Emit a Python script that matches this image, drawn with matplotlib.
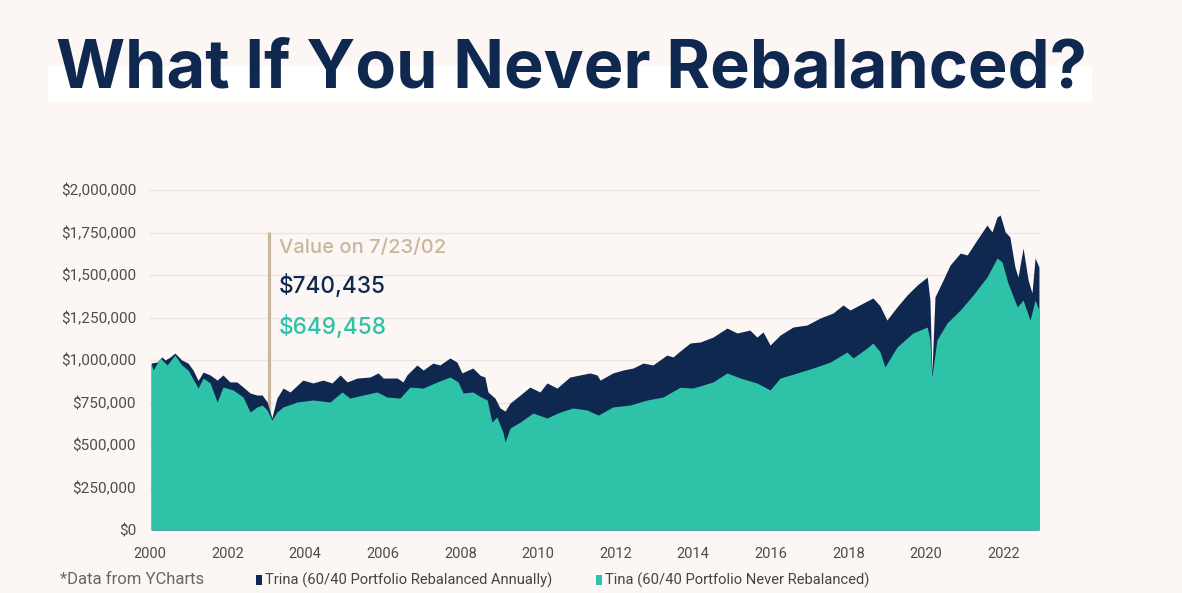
import matplotlib
matplotlib.use("Agg")
import matplotlib.pyplot as plt
from matplotlib.patches import Rectangle
from matplotlib.ticker import FuncFormatter, FixedLocator

# ---- data (values in thousands of dollars, time in decimal years) ----
trina_years = [2000.03, 2000.18, 2000.31, 2000.39, 2000.52, 2000.64, 2000.82, 2000.98,
               2001.11, 2001.24, 2001.37, 2001.55, 2001.73, 2001.88, 2002.06, 2002.24,
               2002.40, 2002.58, 2002.76, 2002.89, 2003.02, 2003.14, 2003.27, 2003.43,
               2003.61, 2003.94, 2004.20, 2004.46, 2004.69, 2004.90, 2005.08, 2005.34,
               2005.67, 2005.88, 2006.01, 2006.37, 2006.52, 2006.62, 2006.88, 2007.04,
               2007.29, 2007.47, 2007.73, 2007.91, 2008.04, 2008.32, 2008.51, 2008.63,
               2008.71, 2008.89, 2009.02, 2009.15, 2009.28, 2009.54, 2009.79, 2010.05,
               2010.23, 2010.49, 2010.82, 2011.08, 2011.34, 2011.52, 2011.60, 2011.93,
               2012.19, 2012.45, 2012.71, 2012.96, 2013.32, 2013.48, 2013.66, 2013.92,
               2014.18, 2014.51, 2014.87, 2015.13, 2015.46, 2015.64, 2015.80, 2015.98,
               2016.24, 2016.57, 2016.93, 2017.27, 2017.60, 2017.86, 2018.04, 2018.38,
               2018.63, 2018.81, 2018.99, 2019.25, 2019.51, 2019.77, 2020.03, 2020.10,
               2020.15, 2020.23, 2020.44, 2020.62, 2020.88, 2021.06, 2021.31, 2021.57,
               2021.70, 2021.83, 2021.91, 2022.04, 2022.16, 2022.29, 2022.37, 2022.50,
               2022.63, 2022.73, 2022.81, 2022.91]
trina_values = [982, 988, 1018, 1000, 1018, 1041, 1000, 982,
                941, 880, 929, 912, 882, 912, 871, 871,
                841, 806, 794, 794, 753, 659, 776, 835,
                812, 882, 865, 882, 865, 912, 871, 894,
                900, 924, 894, 894, 871, 912, 971, 941,
                982, 971, 1012, 988, 924, 953, 910, 900,
                812, 776, 718, 700, 747, 794, 841, 812,
                865, 835, 900, 912, 924, 912, 882, 924,
                941, 953, 982, 971, 1029, 1018, 1053, 1100,
                1106, 1135, 1188, 1159, 1176, 1135, 1165, 1088,
                1147, 1194, 1206, 1247, 1276, 1324, 1294, 1335,
                1365, 1320, 1235, 1312, 1382, 1441, 1488, 1353,
                924, 1371, 1471, 1559, 1629, 1618, 1706, 1794,
                1753, 1841, 1853, 1753, 1724, 1547, 1488, 1659,
                1471, 1394, 1600, 1547]

tina_years = [2000.03, 2000.08, 2000.26, 2000.44, 2000.64, 2000.82, 2000.98, 2001.24,
              2001.37, 2001.55, 2001.73, 2001.88, 2002.14, 2002.40, 2002.58, 2002.76,
              2002.89, 2003.02, 2003.14, 2003.27, 2003.43, 2003.79, 2004.20, 2004.64,
              2004.95, 2005.15, 2005.49, 2005.85, 2006.11, 2006.44, 2006.70, 2007.04,
              2007.40, 2007.73, 2007.94, 2008.07, 2008.32, 2008.51, 2008.69, 2008.81,
              2008.94, 2009.10, 2009.15, 2009.28, 2009.54, 2009.87, 2010.23, 2010.57,
              2010.90, 2011.26, 2011.55, 2011.93, 2012.37, 2012.81, 2013.22, 2013.66,
              2013.99, 2014.51, 2014.87, 2015.21, 2015.64, 2015.98, 2016.24, 2016.68,
              2017.09, 2017.53, 2017.96, 2018.12, 2018.48, 2018.63, 2018.81, 2018.94,
              2019.25, 2019.66, 2020.03, 2020.10, 2020.15, 2020.28, 2020.54, 2020.88,
              2021.21, 2021.57, 2021.83, 2021.96, 2022.11, 2022.35, 2022.50, 2022.68,
              2022.81, 2022.91]
tina_values = [982, 941, 1012, 971, 1029, 971, 941, 835,
               894, 865, 753, 841, 824, 782, 694, 724,
               735, 706, 647, 694, 724, 753, 765, 753,
               812, 776, 794, 812, 782, 776, 841, 835,
               871, 900, 871, 806, 812, 785, 765, 635,
               665, 571, 518, 600, 635, 688, 659, 694,
               718, 706, 676, 724, 735, 765, 782, 840,
               835, 871, 924, 894, 865, 824, 894, 924,
               953, 988, 1047, 1012, 1071, 1100, 1050, 959,
               1076, 1159, 1194, 1118, 900, 1118, 1218, 1294,
               1382, 1488, 1600, 1576, 1453, 1312, 1353, 1235,
               1353, 1294]

year_ticks = [2000, 2002, 2004, 2006, 2008, 2010, 2012, 2014, 2016, 2018, 2020, 2022]
value_ticks = [0, 250000, 500000, 750000, 1000000, 1250000, 1500000, 1750000, 2000000]

title_text = "What If You Never Rebalanced?"
annot_date = 2003.07
annot_label = "Value on 7/23/02"
annot_trina = "$740,435"
annot_tina = "$649,458"
label_trina = "Trina (60/40 Portfolio Rebalanced Annually)"
label_tina = "Tina (60/40 Portfolio Never Rebalanced)"
source_text = "*Data from YCharts"

# ---- style ----
BG = "#fcf7f4"
NAVY = "#0f2850"
TEAL = "#2ec2a8"
TAN = "#c8b69e"
GRID = "#ebe5e2"
TICK = "#4d4d4d"

fig = plt.figure(figsize=(11.82, 5.93), dpi=100, facecolor=BG)

# title highlight box
fig.patches.append(Rectangle((0.0406, 0.828), 0.883, 0.0600, transform=fig.transFigure,
                             facecolor="white", edgecolor="none", zorder=0))
fig.text(0.047, 0.853, title_text, fontsize=48, fontweight="bold", color=NAVY,
         family=["Inter", "DejaVu Sans"], va="baseline", ha="left", zorder=2)

ax = fig.add_axes([0.1269, 0.1062, 0.7521, 0.5734])
ax.set_facecolor(BG)

tv = [v * 1000 for v in trina_values]
nv = [v * 1000 for v in tina_values]
ax.fill_between(trina_years, 0, tv, color=NAVY, lw=0, zorder=2)
ax.fill_between(tina_years, 0, nv, color=TEAL, lw=0, zorder=3)

ax.set_xlim(2000, 2022.91)
ax.set_ylim(0, 2000000)
for s in ax.spines.values():
    s.set_visible(False)

ax.yaxis.set_major_locator(FixedLocator(value_ticks))
ax.xaxis.set_major_locator(FixedLocator(year_ticks))
ax.yaxis.set_major_formatter(FuncFormatter(lambda v, p: "${:,.0f}".format(v)))
ax.xaxis.set_major_formatter(FuncFormatter(lambda v, p: "{:d}".format(int(round(v)))))
ax.tick_params(axis="both", length=0, colors=TICK)
ax.tick_params(axis="y", pad=10, labelsize=11)
ax.tick_params(axis="x", pad=12, labelsize=10.5)
for lab in ax.get_xticklabels() + ax.get_yticklabels():
    lab.set_family(["Roboto", "DejaVu Sans"])
ax.grid(axis="y", color=GRID, lw=1, zorder=0)
ax.set_axisbelow(True)

# annotation
ax.plot([annot_date, annot_date], [0, 1753000], color=TAN, lw=2.3, zorder=1,
        solid_capstyle="butt")
ax.text(annot_date + 0.26, 1659000, annot_label, color=TAN, fontsize=14.5,
        fontweight="medium", family=["Inter", "DejaVu Sans"], va="center", ha="left")
ax.text(annot_date + 0.26, 1435000, annot_trina, color=NAVY, fontsize=16.3,
        fontweight="medium", family=["Inter", "DejaVu Sans"], va="center", ha="left")
ax.text(annot_date + 0.26, 1194000, annot_tina, color=TEAL, fontsize=16.3,
        fontweight="medium", family=["Inter", "DejaVu Sans"], va="center", ha="left")

# bottom legend
fig.text(0.0508, 0.022, source_text, color="#666666", fontsize=12,
         family=["Roboto", "DejaVu Sans"], va="center", ha="left")
fig.patches.append(Rectangle((256 / 1182, 0.022 - 0.0085), 6 / 1182, 0.017,
                             transform=fig.transFigure, facecolor=NAVY, edgecolor="none"))
fig.text(265 / 1182, 0.022, label_trina, color="#444444", fontsize=10.6,
         family=["Roboto", "DejaVu Sans"], va="center", ha="left")
fig.patches.append(Rectangle((596 / 1182, 0.022 - 0.0085), 6 / 1182, 0.017,
                             transform=fig.transFigure, facecolor=TEAL, edgecolor="none"))
fig.text(605 / 1182, 0.022, label_tina, color="#444444", fontsize=10.6,
         family=["Roboto", "DejaVu Sans"], va="center", ha="left")

fig.savefig("out.png", dpi=100, facecolor=BG)
